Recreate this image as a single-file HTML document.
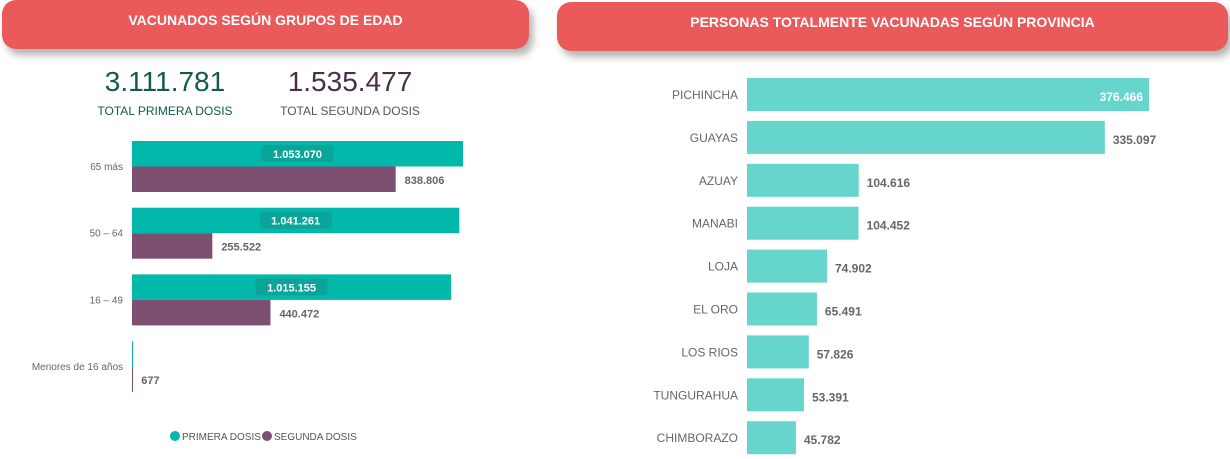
<!DOCTYPE html>
<html><head><meta charset="utf-8"><style>
body{margin:0;width:1230px;height:459px;background:#fff;overflow:hidden;font-family:"Liberation Sans",sans-serif;position:relative}
.hdr{position:absolute;background:#ea5a5a;border-radius:14px;box-shadow:4px 6px 8px rgba(0,0,0,.3);color:#fff;font-weight:bold;font-size:14px;text-align:center;line-height:40px}
.kpi{position:absolute;text-align:center}
svg text{font-family:"Liberation Sans",sans-serif}
</style></head><body>
<div class="hdr" style="left:2px;top:0;width:527px;height:49px;line-height:40px">VACUNADOS SEGÚN GRUPOS DE EDAD</div>
<div class="hdr" style="left:557px;top:2px;width:671px;height:49px;line-height:40px">PERSONAS TOTALMENTE VACUNADAS SEGÚN PROVINCIA</div>
<div class="kpi" style="left:90px;top:66px;width:150px;color:#13594e"><div style="font-size:28px">3.111.781</div><div style="font-size:12px;margin-top:6px">TOTAL PRIMERA DOSIS</div></div>
<div class="kpi" style="left:270px;top:66px;width:160px;color:#4a2f48"><div style="font-size:28px">1.535.477</div><div style="font-size:12px;margin-top:6px;color:#555">TOTAL SEGUNDA DOSIS</div></div>
<svg id="left" width="540" height="459" style="position:absolute;left:0;top:0"></svg>
<svg id="right" width="1230" height="459" style="position:absolute;left:0;top:0"></svg>
<script>
const ageGroups=["65 más","50 – 64","16 – 49","Menores de 16 años"];
const primera=[1053070,1041261,1015155,2295];
const segunda=[838806,255522,440472,677];
const provinces=["PICHINCHA","GUAYAS","AZUAY","MANABI","LOJA","EL ORO","LOS RIOS","TUNGURAHUA","CHIMBORAZO"];
const provValues=[376466,335097,104616,104452,74902,65491,57826,53391,45782];
const fmt=v=>v.toString().replace(/\B(?=(\d{3})+(?!\d))/g,".");
const NS="http://www.w3.org/2000/svg";
function mk(p,t,a,txt){const e=document.createElementNS(NS,t);for(const k in a)e.setAttribute(k,a[k]);if(txt!==undefined)e.textContent=txt;p.appendChild(e);return e;}
// left
const L=document.getElementById('left');
const lx=v=>132+v*331/1053070;
const ly=i=>141+i*66.7;
ageGroups.forEach((g,i)=>{
 const y=ly(i);
 let t=mk(L,'text',{x:123,y:y+29,'text-anchor':'end','font-size':10,fill:'#666'},g);
 
 let b=mk(L,'rect',{x:132,y:y,width:Math.max(1,lx(primera[i])-132),height:25.5,fill:'#01b8aa'});
 
 let b2=mk(L,'rect',{x:132,y:y+25.5,width:Math.max(1,lx(segunda[i])-132),height:25.5,fill:'#7d4f73'});
 
 if(primera[i]>100000){
  const cx=(132+lx(primera[i]))/2;
  let bg=mk(L,'rect',{x:cx-36,y:y+4,width:72,height:17,rx:3,fill:'#0aa598'});
  
  let tl=mk(L,'text',{x:cx,y:y+17,'text-anchor':'middle','font-size':11,'font-weight':'bold',fill:'#fff'},fmt(primera[i]));
  
 }
 let tv=mk(L,'text',{x:lx(segunda[i])+9,y:y+43,'font-size':11,'font-weight':'bold',fill:'#666'},fmt(segunda[i]));
 
});
let c1=mk(L,'circle',{cx:175,cy:436,r:5,fill:'#01b8aa'});
mk(L,'text',{x:182,y:440,'font-size':10,fill:'#555'},'PRIMERA DOSIS');
let c2=mk(L,'circle',{cx:267,cy:436,r:5,fill:'#7d4f73'});
mk(L,'text',{x:274,y:440,'font-size':10,fill:'#555'},'SEGUNDA DOSIS');
// right
const R=document.getElementById('right');
const rx=v=>747+v*402/376466;
const ry=i=>78+i*42.9;
provinces.forEach((p,i)=>{
 const y=ry(i);
 let t=mk(R,'text',{x:738,y:y+21,'text-anchor':'end','font-size':12,fill:'#666'},p);
 
 let b=mk(R,'rect',{x:747,y:y,width:rx(provValues[i])-747,height:33,fill:'#66d5cc'});
 
 const inside=i===0;
 let v=mk(R,'text',{x:inside?rx(provValues[i])-6:rx(provValues[i])+8,y:y+23,'text-anchor':inside?'end':'start','font-size':12,'font-weight':'bold',fill:inside?'#fff':'#666'},fmt(provValues[i]));
 
});
</script>
</body></html>
